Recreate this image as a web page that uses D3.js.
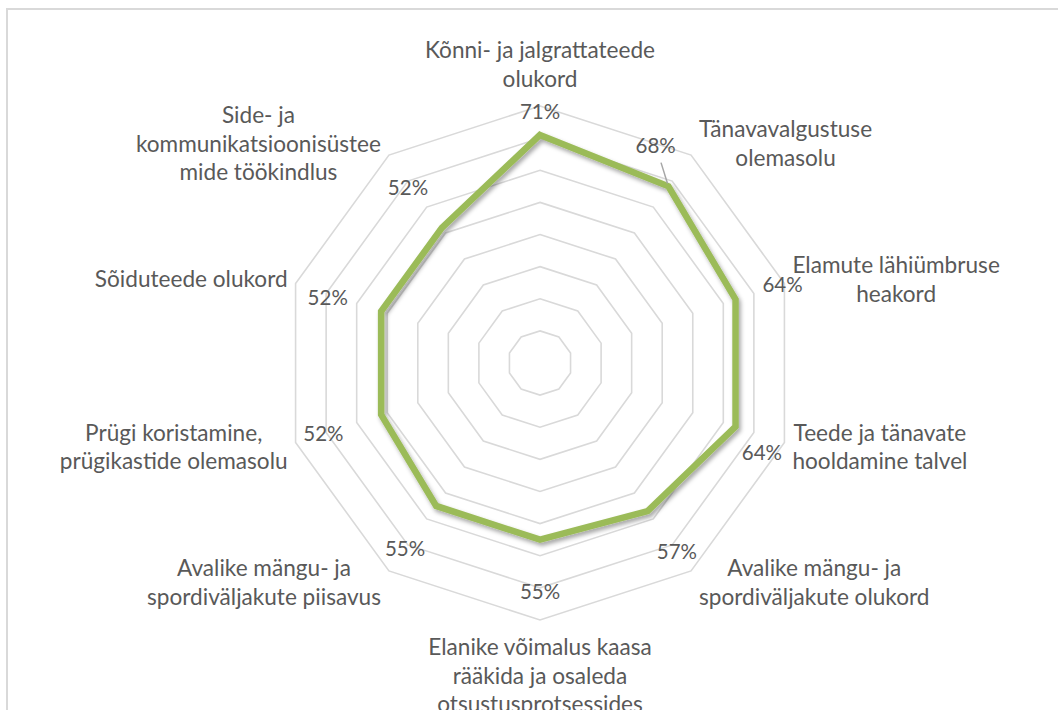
<!DOCTYPE html>
<html>
<head>
<meta charset="utf-8">
<script src="https://cdn.jsdelivr.net/npm/d3@7"></script>
<style>
  body { margin: 0; background: #fff; }
  svg text { font-family: Lato, "Open Sans", sans-serif; fill: #595959; }
</style>
</head>
<body>
<div id="chart"></div>
<script>
'use strict';

/*** Data */
/** Axis categories (already wrapped the way the original wraps them) */
const categories = [
    ["Kõnni- ja jalgrattateede", "olukord"],
    ["Tänavavalgustuse", "olemasolu"],
    ["Elamute lähiümbruse", "heakord"],
    ["Teede ja tänavate", "hooldamine talvel"],
    ["Avalike mängu- ja", "spordiväljakute olukord"],
    ["Elanike võimalus kaasa", "rääkida ja osaleda", "otsustusprotsessides"],
    ["Avalike mängu- ja", "spordiväljakute piisavus"],
    ["Prügi koristamine,", "prügikastide olemasolu"],
    ["Sõiduteede olukord"],
    ["Side- ja", "kommunikatsioonisüstee", "mide töökindlus"]
];

/** Series values */
const values = [0.71, 0.68, 0.64, 0.64, 0.57, 0.55, 0.55, 0.52, 0.52, 0.52];

/** Grid rings */
const ringTicks = [0.1, 0.2, 0.3, 0.4, 0.5, 0.6, 0.7, 0.8];

/*** Layout */
const w = 1058;
const h = 710;
const cx = 540;
const cy = 363;
const outerR = 257;
const lineH = 28.5;
const catFont = 22.6;
const valFont = 20.5;

/* data label placement (radius in value units, angle shift in degrees) */
const labelR = [0.784, 0.767, 0.794, 0.745, 0.725, 0.713, 0.715, 0.709, 0.691, 0.683];
const labelTurn = [0, -8, 0, 4, 0, 0, 0, 0, -1, -1];
const labelLeader = [false, true, false, false, false, false, false, false, false, false];

const svg = d3.select("#chart")
    .append("svg")
    .attr("width", w)
    .attr("height", h);

/* chart area border (runs off the right and bottom edge) */
svg.append("rect")
    .attr("x", 7)
    .attr("y", 9)
    .attr("width", w + 40)
    .attr("height", h + 40)
    .attr("fill", "none")
    .attr("stroke", "#d9d9d9")
    .attr("stroke-width", 2);

/* drop shadow for the series line */
const defs = svg.append("defs");
defs.append("filter")
    .attr("id", "shadow")
    .attr("x", "-10%").attr("y", "-10%")
    .attr("width", "120%").attr("height", "120%")
    .append("feDropShadow")
    .attr("dx", 2)
    .attr("dy", 3)
    .attr("stdDeviation", 2)
    .attr("flood-color", "#000")
    .attr("flood-opacity", 0.35);

/** Scales */
const rScale = d3.scaleLinear().domain([0, 0.8]).range([0, outerR]);
const angle = d3.scaleLinear().domain([0, categories.length]).range([0, 2 * Math.PI]);

const g = svg.append("g").attr("transform", `translate(${cx},${cy})`);

/** Grid rings */
const ring = d3.lineRadial()
    .angle((d, i) => angle(i))
    .radius(d => rScale(d))
    .curve(d3.curveLinearClosed);

g.selectAll(".ring")
    .data(ringTicks)
    .join("path")
    .attr("class", "ring")
    .attr("d", t => ring(categories.map(() => t)))
    .attr("fill", "none")
    .attr("stroke", "#d9d9d9")
    .attr("stroke-width", 1.6);

/** Series */
g.append("path")
    .datum(values)
    .attr("d", ring)
    .attr("fill", "none")
    .attr("stroke", "#9bbb59")
    .attr("stroke-width", 6.5)
    .attr("stroke-linejoin", "miter")
    .attr("filter", "url(#shadow)");

/** Data labels */
const polar = (a, r) => [Math.sin(a) * r, -Math.cos(a) * r];

values.forEach((v, i) => {
    const a = angle(i) + labelTurn[i] * Math.PI / 180;
    const [lx, ly] = polar(a, rScale(labelR[i]));
    if (labelLeader[i]) {
        const [px, py] = polar(angle(i), rScale(v));
        const dx = px - lx, dy = py - ly;
        const len = Math.hypot(dx, dy);
        g.append("line")
            .attr("x1", lx + dx / len * 18)
            .attr("y1", ly + dy / len * 18)
            .attr("x2", px - dx / len * 3)
            .attr("y2", py - dy / len * 3)
            .attr("stroke", "#a6a6a6")
            .attr("stroke-width", 1.5);
    }
    g.append("text")
        .attr("x", lx)
        .attr("y", ly)
        .attr("dy", "0.36em")
        .attr("text-anchor", "middle")
        .style("font-size", valFont + "px")
        .text(d3.format(".0%")(v));
});

/** Category labels */
categories.forEach((lines, i) => {
    const a = angle(i);
    const s = Math.sin(a), c = Math.cos(a);
    const [vx, vy] = polar(a, outerR);
    const t = g.append("text")
        .attr("text-anchor", "middle")
        .style("font-size", catFont + "px");
    const spans = t.selectAll("tspan")
        .data(lines)
        .join("tspan")
        .text(d => d);
    const bw = d3.max(spans.nodes(), n => n.getComputedTextLength());
    const bh = lines.length * lineH;
    let bx, by;
    if (Math.abs(s) < 0.01) {
        bx = vx;
        by = vy - c * (13 + bh / 2);
    } else {
        bx = vx + Math.sign(s) * (8 + bw / 2);
        by = vy - c * lineH / 2;
    }
    spans.attr("x", bx)
        .attr("y", (d, k) => by + (k - (lines.length - 1) / 2) * lineH)
        .attr("dy", "0.36em");
});
</script>
</body>
</html>
